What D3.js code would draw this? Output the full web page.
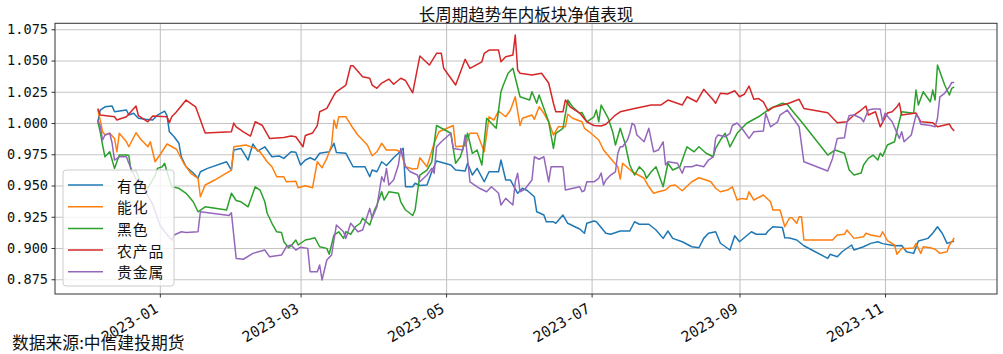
<!DOCTYPE html>
<html><head><meta charset="utf-8">
<script src="https://cdn.jsdelivr.net/npm/d3@7"></script>
<style>body{margin:0;background:#fff}svg{display:block}</style>
</head><body>
<svg id="chart" width="1003" height="354"></svg>
<script>
const titleText = "长周期趋势年内板块净值表现";
const sourceText = "数据来源:中信建投期货";
const seriesNames = ["有色", "能化", "黑色", "农产品", "贵金属"];
const seriesColors = ["#1f77b4", "#ff7f0e", "#2ca02c", "#d62728", "#9467bd"];
const yTickValues = [0.875, 0.900, 0.925, 0.950, 0.975, 1.000, 1.025, 1.050, 1.075];
const xTickLabels = ["2023-01", "2023-03", "2023-05", "2023-07", "2023-09", "2023-11"];

const youse = [["2022-12-06",1.001],["2022-12-07",1.0104],["2022-12-09",1.013],["2022-12-12",1.0136],["2022-12-13",1.009],["2022-12-18",1.0104],["2022-12-19",1.0064],["2022-12-21",1.0078],["2022-12-23",1.0038],["2022-12-26",1.003],["2022-12-29",1.0024],["2022-12-31",1.0064],["2023-01-03",1.0096],["2023-01-04",1.006],["2023-01-05",0.993],["2023-01-07",0.989],["2023-01-09",0.9838],["2023-01-10",0.973],["2023-01-12",0.965],["2023-01-15",0.96],["2023-01-17",0.9558],["2023-01-18",0.961],["2023-01-21",0.9637],["2023-01-29",0.969],["2023-01-31",0.9624],["2023-02-01",0.9784],["2023-02-04",0.9797],["2023-02-07",0.9704],["2023-02-09",0.9832],["2023-02-11",0.9776],["2023-02-14",0.981],["2023-02-17",0.973],["2023-02-20",0.9736],["2023-02-22",0.9717],["2023-02-25",0.977],["2023-02-27",0.9766],["2023-03-01",0.9664],["2023-03-03",0.9704],["2023-03-05",0.9722],["2023-03-07",0.9704],["2023-03-09",0.9758],["2023-03-13",0.977],["2023-03-15",0.9838],["2023-03-16",0.9765],["2023-03-20",0.9758],["2023-03-23",0.965],["2023-03-28",0.965],["2023-03-30",0.957],["2023-03-31",0.9624],["2023-04-02",0.961],["2023-04-04",0.969],["2023-04-06",0.966],["2023-04-09",0.9722],["2023-04-11",0.9758],["2023-04-13",0.9798],["2023-04-14",0.949],["2023-04-17",0.949],["2023-04-18",0.9518],["2023-04-20",0.950],["2023-04-23",0.9504],["2023-04-25",0.961],["2023-04-27",0.9696],["2023-05-03",0.9664],["2023-05-05",0.9624],["2023-05-09",0.9616],["2023-05-10",0.9678],["2023-05-12",0.9584],["2023-05-14",0.9637],["2023-05-17",0.953],["2023-05-19",0.961],["2023-05-23",0.961],["2023-05-24",0.9704],["2023-05-26",0.9544],["2023-05-28",0.9544],["2023-05-31",0.9438],["2023-06-02",0.9478],["2023-06-04",0.946],["2023-06-07",0.941],["2023-06-08",0.929],["2023-06-11",0.9264],["2023-06-12",0.921],["2023-06-15",0.921],["2023-06-16",0.9198],["2023-06-19",0.9264],["2023-06-21",0.9198],["2023-06-24",0.917],["2023-06-26",0.9152],["2023-06-28",0.9118],["2023-06-29",0.9198],["2023-07-02",0.9216],["2023-07-03",0.921],["2023-07-07",0.9118],["2023-07-09",0.911],["2023-07-13",0.9136],["2023-07-17",0.9136],["2023-07-19",0.921],["2023-07-21",0.919],["2023-07-25",0.919],["2023-07-28",0.9144],["2023-07-31",0.9077],["2023-08-02",0.9136],["2023-08-04",0.9077],["2023-08-08",0.905],["2023-08-12",0.901],["2023-08-15",0.9002],["2023-08-17",0.9077],["2023-08-19",0.9118],["2023-08-22",0.913],["2023-08-24",0.9038],["2023-08-28",0.8984],["2023-08-30",0.9098],["2023-09-01",0.905],["2023-09-03",0.9082],["2023-09-06",0.913],["2023-09-08",0.911],["2023-09-12",0.911],["2023-09-13",0.9136],["2023-09-15",0.917],["2023-09-19",0.9164],["2023-09-20",0.9082],["2023-09-22",0.908],["2023-09-25",0.9064],["2023-09-28",0.9018],["2023-10-08",0.8917],["2023-10-09",0.895],["2023-10-12",0.893],["2023-10-14",0.897],["2023-10-18",0.9024],["2023-10-19",0.8984],["2023-10-23",0.901],["2023-10-26",0.9037],["2023-10-29",0.905],["2023-10-31",0.9035],["2023-11-05",0.9018],["2023-11-08",0.902],["2023-11-10",0.897],["2023-11-13",0.8957],["2023-11-15",0.9056],["2023-11-19",0.9077],["2023-11-21",0.9118],["2023-11-23",0.917],["2023-11-25",0.9118],["2023-11-27",0.9037],["2023-11-30",0.9056]];

const nenghua = [["2022-12-06",1.0104],["2022-12-07",1.0024],["2022-12-08",0.993],["2022-12-09",0.9904],["2022-12-11",0.9918],["2022-12-13",0.9877],["2022-12-14",0.977],["2022-12-15",0.9918],["2022-12-18",0.985],["2022-12-19",0.981],["2022-12-22",0.9922],["2022-12-24",0.987],["2022-12-27",0.981],["2022-12-28",0.985],["2022-12-30",0.969],["2023-01-01",0.9744],["2023-01-04",0.9832],["2023-01-08",0.979],["2023-01-11",0.9678],["2023-01-14",0.9598],["2023-01-17",0.9558],["2023-01-18",0.941],["2023-01-20",0.9504],["2023-01-24",0.9544],["2023-01-31",0.9624],["2023-02-01",0.981],["2023-02-06",0.9824],["2023-02-10",0.9797],["2023-02-12",0.977],["2023-02-15",0.969],["2023-02-17",0.965],["2023-02-19",0.957],["2023-02-22",0.957],["2023-02-23",0.953],["2023-02-27",0.9535],["2023-02-28",0.9482],["2023-03-03",0.9498],["2023-03-06",0.9482],["2023-03-08",0.969],["2023-03-10",0.9642],["2023-03-12",0.9717],["2023-03-14",0.9824],["2023-03-15",1.0024],["2023-03-16",0.9958],["2023-03-17",1.005],["2023-03-20",1.005],["2023-03-23",0.9958],["2023-03-25",0.9904],["2023-03-29",0.9824],["2023-03-31",0.9738],["2023-04-02",0.977],["2023-04-04",0.9838],["2023-04-06",0.9784],["2023-04-10",0.9784],["2023-04-12",0.977],["2023-04-14",0.965],["2023-04-17",0.9632],["2023-04-19",0.9636],["2023-04-20",0.9722],["2023-04-23",0.965],["2023-04-26",0.9838],["2023-04-28",0.993],["2023-05-04",0.998],["2023-05-05",0.981],["2023-05-09",0.9818],["2023-05-11",0.9918],["2023-05-14",0.9918],["2023-05-17",0.977],["2023-05-19",1.005],["2023-05-21",1.0024],["2023-05-23",1.0096],["2023-05-26",1.005],["2023-05-28",1.0104],["2023-05-30",1.021],["2023-06-01",0.998],["2023-06-02",1.0038],["2023-06-06",1.0064],["2023-06-07",1.003],["2023-06-09",1.013],["2023-06-11",1.0078],["2023-06-13",1.001],["2023-06-15",0.9904],["2023-06-17",0.997],["2023-06-20",0.997],["2023-06-21",1.007],["2023-06-23",1.0038],["2023-06-27",1.001],["2023-06-28",0.9958],["2023-06-30",0.993],["2023-07-04",0.9864],["2023-07-06",0.9784],["2023-07-09",0.9717],["2023-07-12",0.965],["2023-07-13",0.9552],["2023-07-14",0.9678],["2023-07-18",0.961],["2023-07-20",0.959],["2023-07-23",0.9558],["2023-07-25",0.949],["2023-07-27",0.9438],["2023-07-29",0.945],["2023-08-01",0.9464],["2023-08-03",0.9498],["2023-08-05",0.9504],["2023-08-08",0.9458],["2023-08-12",0.953],["2023-08-15",0.9562],["2023-08-17",0.955],["2023-08-20",0.953],["2023-08-22",0.9478],["2023-08-24",0.945],["2023-08-27",0.9464],["2023-08-29",0.949],["2023-08-31",0.9384],["2023-09-02",0.9397],["2023-09-04",0.939],["2023-09-05",0.945],["2023-09-07",0.9384],["2023-09-11",0.9424],["2023-09-14",0.937],["2023-09-15",0.9304],["2023-09-18",0.9304],["2023-09-20",0.917],["2023-09-22",0.9242],["2023-09-23",0.9242],["2023-09-25",0.9198],["2023-09-26",0.925],["2023-09-27",0.925],["2023-09-28",0.9064],["2023-10-10",0.9064],["2023-10-12",0.9104],["2023-10-15",0.911],["2023-10-16",0.9144],["2023-10-19",0.9077],["2023-10-23",0.909],["2023-10-24",0.9118],["2023-10-26",0.9104],["2023-10-30",0.909],["2023-10-31",0.913],["2023-11-02",0.906],["2023-11-05",0.9024],["2023-11-06",0.895],["2023-11-08",0.8997],["2023-11-10",0.8997],["2023-11-13",0.900],["2023-11-14",0.9037],["2023-11-16",0.8957],["2023-11-17",0.901],["2023-11-20",0.9002],["2023-11-22",0.899],["2023-11-24",0.8957],["2023-11-27",0.897],["2023-11-28",0.9024],["2023-11-29",0.905],["2023-11-30",0.9082]];

const heise = [["2022-12-06",1.001],["2022-12-07",0.993],["2022-12-08",0.9824],["2022-12-09",0.973],["2022-12-11",0.977],["2022-12-13",0.9637],["2022-12-15",0.9744],["2022-12-18",0.9744],["2022-12-19",0.974],["2022-12-20",0.961],["2022-12-22",0.962],["2022-12-24",0.952],["2022-12-27",0.948],["2022-12-30",0.958],["2022-12-31",0.9637],["2023-01-02",0.965],["2023-01-03",0.9678],["2023-01-04",0.961],["2023-01-06",0.949],["2023-01-09",0.9478],["2023-01-12",0.9438],["2023-01-15",0.937],["2023-01-17",0.929],["2023-01-20",0.933],["2023-01-29",0.9304],["2023-01-31",0.9438],["2023-02-02",0.938],["2023-02-04",0.937],["2023-02-07",0.933],["2023-02-10",0.949],["2023-02-12",0.9464],["2023-02-14",0.937],["2023-02-15",0.9278],["2023-02-17",0.9198],["2023-02-19",0.913],["2023-02-21",0.9125],["2023-02-22",0.905],["2023-02-24",0.9002],["2023-02-25",0.9016],["2023-02-27",0.9064],["2023-02-28",0.9024],["2023-03-03",0.9064],["2023-03-05",0.9072],["2023-03-07",0.9082],["2023-03-09",0.901],["2023-03-12",0.8997],["2023-03-13",0.895],["2023-03-15",0.9104],["2023-03-17",0.913],["2023-03-19",0.9077],["2023-03-20",0.9131],["2023-03-22",0.911],["2023-03-24",0.917],["2023-03-26",0.9198],["2023-03-27",0.9238],["2023-03-30",0.9184],["2023-04-01",0.9304],["2023-04-02",0.9344],["2023-04-04",0.945],["2023-04-05",0.9384],["2023-04-07",0.945],["2023-04-11",0.9438],["2023-04-12",0.937],["2023-04-14",0.9304],["2023-04-15",0.929],["2023-04-17",0.926],["2023-04-18",0.9304],["2023-04-20",0.9584],["2023-04-23",0.9624],["2023-04-25",0.969],["2023-04-27",0.998],["2023-05-03",0.9918],["2023-05-05",0.9678],["2023-05-07",0.973],["2023-05-10",0.9918],["2023-05-12",0.9758],["2023-05-14",0.9784],["2023-05-16",0.9664],["2023-05-18",1.0038],["2023-05-22",0.9958],["2023-05-24",1.025],["2023-05-25",1.0304],["2023-05-27",1.0398],["2023-05-29",1.0438],["2023-06-01",1.021],["2023-06-05",1.0184],["2023-06-06",1.025],["2023-06-08",1.0158],["2023-06-09",1.0224],["2023-06-13",1.001],["2023-06-15",0.9797],["2023-06-16",0.9918],["2023-06-19",0.9958],["2023-06-21",1.0184],["2023-06-23",1.013],["2023-06-26",1.0078],["2023-06-27",1.0084],["2023-06-29",1.001],["2023-07-02",1.005],["2023-07-03",1.0104],["2023-07-04",1.001],["2023-07-05",1.0144],["2023-07-08",1.0038],["2023-07-10",0.9918],["2023-07-11",0.9824],["2023-07-13",0.9958],["2023-07-15",0.9838],["2023-07-17",0.9664],["2023-07-19",0.9584],["2023-07-21",0.965],["2023-07-23",0.961],["2023-07-24",0.9558],["2023-07-26",0.961],["2023-07-28",0.965],["2023-07-31",0.949],["2023-08-02",0.9678],["2023-08-04",0.9624],["2023-08-07",0.965],["2023-08-10",0.981],["2023-08-13",0.977],["2023-08-15",0.981],["2023-08-18",0.9758],["2023-08-21",0.973],["2023-08-22",0.9797],["2023-08-24",0.9864],["2023-08-26",0.9918],["2023-08-28",0.981],["2023-08-31",0.9918],["2023-09-04",0.9998],["2023-09-09",1.005],["2023-09-11",1.0078],["2023-09-14",1.0117],["2023-09-19",1.0158],["2023-09-21",1.015],["2023-09-24",1.0078],["2023-09-27",1.001],["2023-10-08",0.9744],["2023-10-11",0.9784],["2023-10-15",0.9758],["2023-10-17",0.9624],["2023-10-19",0.9584],["2023-10-22",0.96],["2023-10-23",0.9664],["2023-10-25",0.9717],["2023-10-27",0.9744],["2023-10-29",0.9704],["2023-10-30",0.9758],["2023-10-31",0.9735],["2023-11-02",0.9824],["2023-11-05",0.985],["2023-11-06",0.9936],["2023-11-08",1.009],["2023-11-13",1.0078],["2023-11-14",1.0264],["2023-11-15",1.0144],["2023-11-17",1.025],["2023-11-20",1.017],["2023-11-21",1.0264],["2023-11-22",1.0184],["2023-11-23",1.0464],["2023-11-26",1.0304],["2023-11-28",1.0224],["2023-11-29",1.0278],["2023-11-30",1.029]];

const nongchanpin = [["2022-12-06",1.0117],["2022-12-07",1.0064],["2022-12-13",1.005],["2022-12-14",1.0024],["2022-12-18",1.005],["2022-12-22",1.0136],["2022-12-23",1.006],["2022-12-27",1.001],["2022-12-29",1.0056],["2023-01-04",1.005],["2023-01-05",1.0003],["2023-01-06",1.005],["2023-01-08",1.009],["2023-01-12",1.0184],["2023-01-16",1.013],["2023-01-20",0.992],["2023-01-31",0.993],["2023-02-01",1.000],["2023-02-02",0.997],["2023-02-05",0.993],["2023-02-08",0.9896],["2023-02-10",1.001],["2023-02-13",0.998],["2023-02-16",0.9877],["2023-02-22",0.9885],["2023-02-25",0.9896],["2023-02-27",0.989],["2023-03-02",0.981],["2023-03-03",0.990],["2023-03-06",0.992],["2023-03-08",0.998],["2023-03-09",1.009],["2023-03-12",1.0117],["2023-03-15",1.0224],["2023-03-16",1.025],["2023-03-20",1.0304],["2023-03-22",1.0458],["2023-03-23",1.0458],["2023-03-27",1.037],["2023-03-30",1.0358],["2023-03-31",1.0304],["2023-04-02",1.0278],["2023-04-04",1.032],["2023-04-07",1.0352],["2023-04-09",1.031],["2023-04-12",1.0358],["2023-04-14",1.034],["2023-04-17",1.0242],["2023-04-20",1.0536],["2023-04-24",1.0464],["2023-04-27",1.0558],["2023-04-29",1.0558],["2023-04-30",1.0438],["2023-05-05",1.0304],["2023-05-09",1.051],["2023-05-11",1.0438],["2023-05-16",1.049],["2023-05-17",1.0558],["2023-05-19",1.0584],["2023-05-23",1.0584],["2023-05-24",1.049],["2023-05-26",1.053],["2023-05-29",1.0544],["2023-05-30",1.0704],["2023-05-31",1.0424],["2023-06-01",1.0398],["2023-06-06",1.0384],["2023-06-10",1.0398],["2023-06-13",1.032],["2023-06-15",1.0158],["2023-06-16",1.009],["2023-06-19",1.009],["2023-06-20",1.0184],["2023-06-22",1.013],["2023-06-26",1.008],["2023-06-29",1.001],["2023-07-02",0.998],["2023-07-05",0.9976],["2023-07-07",0.999],["2023-07-11",1.0064],["2023-07-13",1.009],["2023-07-19",1.0117],["2023-07-26",1.0144],["2023-07-30",1.0144],["2023-08-02",1.0184],["2023-08-08",1.0144],["2023-08-10",1.021],["2023-08-14",1.017],["2023-08-17",1.027],["2023-08-21",1.0184],["2023-08-22",1.0158],["2023-08-24",1.0238],["2023-08-27",1.0232],["2023-08-30",1.0258],["2023-09-01",1.021],["2023-09-03",1.023],["2023-09-05",1.0296],["2023-09-07",1.019],["2023-09-09",1.0196],["2023-09-11",1.017],["2023-09-13",1.0098],["2023-09-15",1.0126],["2023-09-19",1.0144],["2023-09-22",1.016],["2023-09-26",1.019],["2023-09-28",1.0117],["2023-10-08",1.0082],["2023-10-12",1.0003],["2023-10-16",1.001],["2023-10-19",1.0064],["2023-10-22",1.0104],["2023-10-24",1.0136],["2023-10-25",1.0064],["2023-10-28",1.009],["2023-10-30",0.997],["2023-11-02",1.008],["2023-11-04",1.009],["2023-11-06",1.013],["2023-11-07",1.016],["2023-11-08",1.0064],["2023-11-14",1.008],["2023-11-16",1.001],["2023-11-21",1.0003],["2023-11-23",0.997],["2023-11-28",0.9992],["2023-11-29",0.9958],["2023-11-30",0.9936]];

const guijinshu = [["2022-12-06",1.0024],["2022-12-07",0.9976],["2022-12-08",0.9864],["2022-12-09",0.9904],["2022-12-11",0.9918],["2022-12-12",0.9838],["2022-12-13",0.9704],["2022-12-15",0.973],["2022-12-18",0.973],["2022-12-19",0.9678],["2022-12-22",0.955],["2022-12-26",0.945],["2022-12-29",0.935],["2023-01-01",0.9184],["2023-01-03",0.913],["2023-01-06",0.9064],["2023-01-07",0.9104],["2023-01-10",0.913],["2023-01-12",0.9125],["2023-01-17",0.913],["2023-01-18",0.929],["2023-01-30",0.926],["2023-01-31",0.9282],["2023-02-02",0.8917],["2023-02-05",0.891],["2023-02-09",0.8957],["2023-02-14",0.8984],["2023-02-16",0.893],["2023-02-21",0.8944],["2023-02-23",0.901],["2023-02-25",0.9024],["2023-02-27",0.8984],["2023-03-01",0.9006],["2023-03-04",0.8997],["2023-03-05",0.881],["2023-03-08",0.881],["2023-03-09",0.8864],["2023-03-10",0.8744],["2023-03-12",0.8904],["2023-03-14",0.8944],["2023-03-16",0.9184],["2023-03-19",0.913],["2023-03-20",0.9077],["2023-03-22",0.9198],["2023-03-25",0.913],["2023-03-27",0.9144],["2023-03-30",0.9317],["2023-03-31",0.9238],["2023-04-02",0.933],["2023-04-04",0.957],["2023-04-05",0.953],["2023-04-06",0.9637],["2023-04-07",0.9504],["2023-04-09",0.9544],["2023-04-11",0.9664],["2023-04-12",0.9797],["2023-04-14",0.965],["2023-04-16",0.961],["2023-04-19",0.9584],["2023-04-20",0.953],["2023-04-23",0.9584],["2023-04-25",0.9637],["2023-04-26",0.9598],["2023-04-27",0.981],["2023-04-29",0.985],["2023-05-03",0.9918],["2023-05-04",0.9797],["2023-05-08",0.9784],["2023-05-09",0.9904],["2023-05-11",0.953],["2023-05-15",0.9478],["2023-05-18",0.945],["2023-05-20",0.949],["2023-05-23",0.9438],["2023-05-24",0.9344],["2023-05-26",0.9397],["2023-05-29",0.9344],["2023-05-30",0.953],["2023-05-31",0.9598],["2023-06-01",0.945],["2023-06-03",0.947],["2023-06-06",0.9544],["2023-06-07",0.973],["2023-06-09",0.971],["2023-06-11",0.973],["2023-06-13",0.953],["2023-06-14",0.965],["2023-06-19",0.965],["2023-06-20",0.9464],["2023-06-26",0.949],["2023-06-27",0.945],["2023-06-28",0.946],["2023-06-29",0.953],["2023-07-02",0.953],["2023-07-04",0.9558],["2023-07-05",0.96],["2023-07-06",0.9504],["2023-07-07",0.9544],["2023-07-09",0.9584],["2023-07-11",0.961],["2023-07-12",0.9758],["2023-07-13",0.981],["2023-07-14",0.981],["2023-07-16",0.9864],["2023-07-17",0.9918],["2023-07-18",0.9998],["2023-07-19",0.9984],["2023-07-20",0.9904],["2023-07-23",0.985],["2023-07-25",0.9958],["2023-07-27",0.977],["2023-07-29",0.9784],["2023-07-31",0.985],["2023-08-01",0.9664],["2023-08-02",0.969],["2023-08-06",0.9678],["2023-08-08",0.9598],["2023-08-09",0.965],["2023-08-12",0.965],["2023-08-14",0.9664],["2023-08-17",0.965],["2023-08-19",0.9704],["2023-08-21",0.973],["2023-08-22",0.9877],["2023-08-23",0.9904],["2023-08-26",0.989],["2023-08-28",0.9918],["2023-08-29",0.998],["2023-08-31",1.000],["2023-09-02",0.9958],["2023-09-05",0.9877],["2023-09-07",0.993],["2023-09-11",0.9936],["2023-09-12",1.0078],["2023-09-14",0.997],["2023-09-17",1.001],["2023-09-18",1.0064],["2023-09-21",1.0104],["2023-09-23",1.005],["2023-09-26",0.997],["2023-09-28",0.969],["2023-10-08",0.9616],["2023-10-10",0.9717],["2023-10-12",0.9877],["2023-10-15",0.9882],["2023-10-16",1.000],["2023-10-17",1.006],["2023-10-19",1.0064],["2023-10-22",1.0038],["2023-10-23",1.001],["2023-10-25",1.0104],["2023-10-27",1.0112],["2023-10-30",1.0112],["2023-10-31",1.001],["2023-11-01",1.0078],["2023-11-04",1.001],["2023-11-07",0.9877],["2023-11-08",0.993],["2023-11-09",0.985],["2023-11-12",0.9904],["2023-11-14",1.0064],["2023-11-15",1.0046],["2023-11-16",0.999],["2023-11-20",0.998],["2023-11-22",0.997],["2023-11-23",1.0038],["2023-11-24",1.021],["2023-11-26",1.0238],["2023-11-28",1.029],["2023-11-29",1.0325],["2023-11-30",1.0325]];

const seriesData = [youse, nenghua, heise, nongchanpin, guijinshu];

// ---- layout ----
const W = 1003, H = 354;
const plot = {left: 55, right: 997, top: 23.3, bottom: 294};
const yDomain = [0.8632, 1.0798];
const parse = d3.timeParse("%Y-%m-%d");

const series = seriesData.map((arr, i) => ({
  name: seriesNames[i], color: seriesColors[i],
  values: arr.map(d => ({date: parse(d[0]), value: d[1]}))
}));

const allDates = series.flatMap(s => s.values.map(v => v.date));
const ext = d3.extent(allDates);
const pad = (ext[1] - ext[0]) * 0.05;
const x = d3.scaleTime()
  .domain([new Date(+ext[0] - pad), new Date(+ext[1] + pad)])
  .range([plot.left, plot.right]);
const y = d3.scaleLinear().domain(yDomain).range([plot.bottom, plot.top]);

const xTickDates = xTickLabels.map(s => d3.timeParse("%Y-%m")(s));

const svg = d3.select("#chart");
svg.append("rect").attr("width", W).attr("height", H).attr("fill", "#fff");

// grid
const grid = svg.append("g").attr("class", "grid");
grid.append("g")
  .attr("transform", `translate(0,${plot.bottom})`)
  .call(d3.axisBottom(x).tickValues(xTickDates).tickSize(-(plot.bottom - plot.top)).tickFormat(""))
  .call(g => g.select(".domain").remove())
  .call(g => g.selectAll("line").attr("stroke", "#c4c4c4").attr("stroke-width", 1.1));
grid.append("g")
  .attr("transform", `translate(${plot.left},0)`)
  .call(d3.axisLeft(y).tickValues(yTickValues).tickSize(-(plot.right - plot.left)).tickFormat(""))
  .call(g => g.select(".domain").remove())
  .call(g => g.selectAll("line").attr("stroke", "#c4c4c4").attr("stroke-width", 1.1));

// lines
const line = d3.line().x(d => x(d.date)).y(d => y(d.value));
svg.append("g").selectAll("path").data(series).join("path")
  .attr("d", d => line(d.values))
  .attr("fill", "none")
  .attr("stroke", d => d.color)
  .attr("stroke-width", 1.5)
  .attr("stroke-linejoin", "round");

// axes
const tickFont = "'DejaVu Sans Mono', 'Liberation Mono', monospace";
const xAxis = svg.append("g")
  .attr("transform", `translate(0,${plot.bottom})`)
  .call(d3.axisBottom(x).tickValues(xTickDates).tickSize(3.5).tickPadding(3.5)
    .tickFormat((d, i) => xTickLabels[i]));
xAxis.select(".domain").remove();
xAxis.selectAll("line").attr("stroke", "#333");
xAxis.selectAll("text")
  .attr("font-family", tickFont).attr("font-size", 14.8).attr("fill", "#111")
  .attr("text-anchor", "end")
  .attr("dy", null)
  .attr("y", 0)
  .attr("transform", "translate(-1,17.5) rotate(-30)");

const yAxis = svg.append("g")
  .attr("transform", `translate(${plot.left},0)`)
  .call(d3.axisLeft(y).tickValues(yTickValues).tickSize(3.5).tickPadding(3.5)
    .tickFormat(d3.format(".3f")));
yAxis.select(".domain").remove();
yAxis.selectAll("line").attr("stroke", "#333");
yAxis.selectAll("text")
  .attr("font-family", tickFont).attr("font-size", 13.6).attr("fill", "#111");

// frame
svg.append("rect")
  .attr("x", plot.left).attr("y", plot.top)
  .attr("width", plot.right - plot.left).attr("height", plot.bottom - plot.top)
  .attr("fill", "none").attr("stroke", "#333").attr("stroke-width", 1);

// title
const cjk = "'Noto Sans CJK SC', 'Noto Sans', sans-serif";
svg.append("text")
  .attr("x", (plot.left + plot.right) / 2).attr("y", 14)
  .attr("text-anchor", "middle").attr("dominant-baseline", "central")
  .attr("font-family", cjk).attr("font-size", 16.5).attr("fill", "#111")
  .text(titleText);

// legend
const leg = svg.append("g");
leg.append("rect")
  .attr("x", 63).attr("y", 170).attr("width", 111).attr("height", 116).attr("rx", 3)
  .attr("fill", "#fff").attr("fill-opacity", 0.8)
  .attr("stroke", "#cccccc").attr("stroke-width", 1);
const items = leg.selectAll("g.item").data(series).join("g")
  .attr("class", "item")
  .attr("transform", (d, i) => `translate(0,${185 + i * 21.7})`);
items.append("line")
  .attr("x1", 68).attr("x2", 103).attr("y1", 0).attr("y2", 0)
  .attr("stroke", d => d.color).attr("stroke-width", 1.5);
items.append("text")
  .attr("x", 117).attr("y", 0).attr("dominant-baseline", "central")
  .attr("font-family", cjk).attr("font-size", 14.9).attr("fill", "#111")
  .attr("letter-spacing", 0.8)
  .text(d => d.name);

// source
svg.append("text")
  .attr("x", 12).attr("y", 342).attr("dominant-baseline", "central")
  .attr("font-family", cjk).attr("font-size", 16.8).attr("fill", "#111")
  .text(sourceText);
</script>
</body></html>
